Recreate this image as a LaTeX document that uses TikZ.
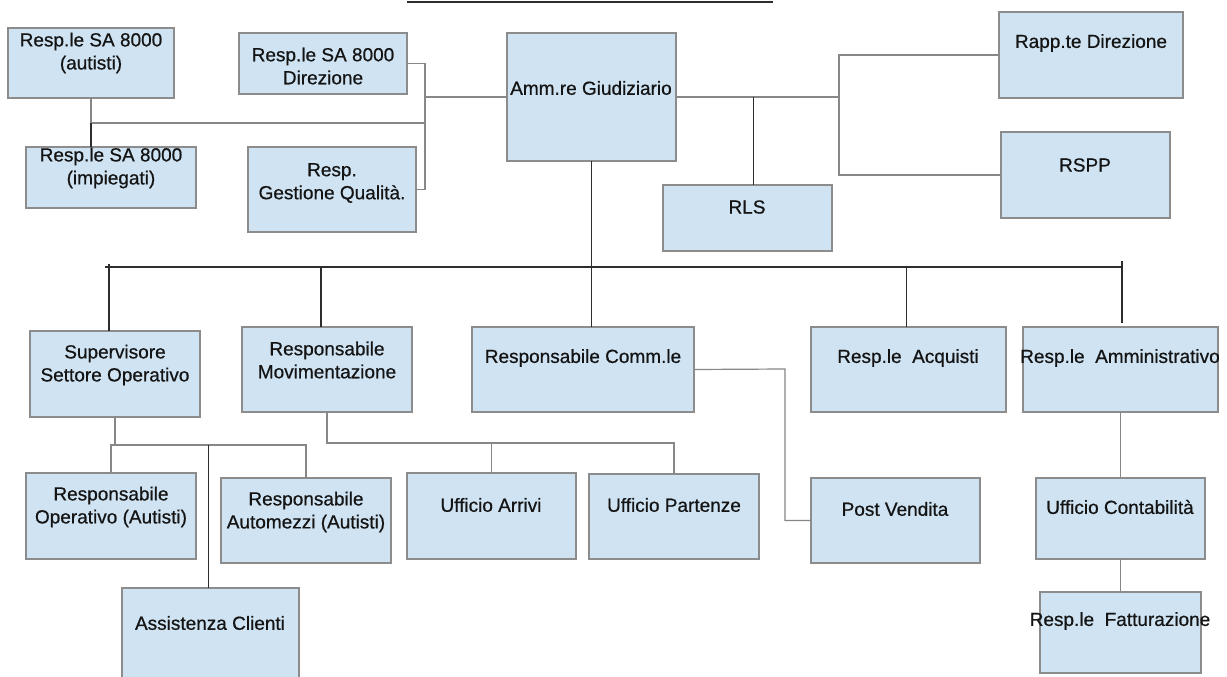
\documentclass[tikz,border=0pt]{standalone}
\usepackage{fontspec}
\setmainfont{Liberation Sans}
\newfontfamily\lblfont{Liberation Sans}[BoldFont={Liberation Sans},BoldFeatures={FakeBold=0.6}]
\definecolor{boxfill}{RGB}{207,227,242}
\definecolor{boxline}{RGB}{140,140,140}
\definecolor{lineg}{RGB}{135,135,135}
\definecolor{lined}{RGB}{45,45,45}
\newcommand{\orgbox}[5]{\node[box, minimum width={(#4-#2)*1pt}, minimum height={(#5-#3)*1pt}] (#1) at (#2,#3) {};}
\begin{document}
\begin{tikzpicture}[x=1pt,y=-1pt,
  box/.style={draw=boxline, fill=boxfill, line width=1.2pt, anchor=north west, inner sep=0pt, outer sep=0pt},
  lbl/.style={font=\lblfont\bfseries\fontsize{19}{23}\selectfont, align=center, inner sep=0pt, text=black!92},
  conn/.style={draw=lineg, line width=1.2pt},
  dconn/.style={draw=lined, line width=1.3pt}]
\useasboundingbox (0,0) rectangle (1227,677);
\fill[white] (0,0) rectangle (1227,677);
\clip (0,0) rectangle (1227,677);
% title underline
\coordinate (ulL) at (407,2);
\coordinate (ulR) at (773,2);
\draw[draw=lined, line width=2pt] (ulL) -- (ulR);
% boxes
\orgbox{sa1}{8}{28}{174}{98}
\orgbox{sadir}{239}{33}{407}{94}
\orgbox{sa2}{26}{147}{196}{208}
\orgbox{gq}{248}{147}{416}{232}
\orgbox{amm}{507}{33}{676}{161}
\orgbox{rapp}{999}{12}{1183}{98}
\orgbox{rspp}{1001}{132}{1170}{218}
\orgbox{rls}{663}{185}{832}{251}
\orgbox{sup}{30}{331}{200}{417}
\orgbox{mov}{242}{327}{412}{412}
\orgbox{comm}{472}{327}{694}{412}
\orgbox{acq}{811}{327}{1006}{412}
\orgbox{amm2}{1023}{327}{1218}{412}
\orgbox{op}{26}{473}{196}{559}
\orgbox{am}{221}{478}{391}{563}
\orgbox{arr}{407}{473}{576}{559}
\orgbox{part}{589}{474}{759}{559}
\orgbox{pv}{811}{478}{980}{563}
\orgbox{cont}{1036}{478}{1205}{559}
\orgbox{fatt}{1040}{592}{1201}{673}
\orgbox{ass}{122}{588}{299}{700}
% labels
\node[lbl] (tsa1) at (91,53) {Resp.le SA 8000\\(autisti)};
\node[lbl] (tsadir) at (323,66) {Resp.le SA 8000\\Direzione};
\node[lbl] (tsa2) at (111,168) {Resp.le SA 8000\\(impiegati)};
\node[lbl] (tgq) at (332,183) {Resp.\\Gestione Qualità.};
\node[lbl] (tamm) at (591,88) {Amm.re Giudiziario};
\node[lbl] (trapp) at (1091,43) {Rapp.te Direzione};
\node[lbl] (trspp) at (1085,165) {RSPP};
\node[lbl] (trls) at (747,207) {RLS};
\node[lbl] (tsup) at (115,365) {Supervisore\\Settore Operativo};
\node[lbl] (tmov) at (327,360) {Responsabile\\Movimentazione};
\node[lbl] (tcomm) at (583,358) {Responsabile Comm.le};
\node[lbl] (tacq) at (908,358) {Resp.le\ \ Acquisti};
\node[lbl] (tamm2) at (1120,358) {Resp.le\ \ Amministrativo};
\node[lbl] (top) at (111,507) {Responsabile\\Operativo (Autisti)};
\node[lbl] (tam) at (306,512) {Responsabile\\Automezzi (Autisti)};
\node[lbl] (tarr) at (491,505) {Ufficio Arrivi};
\node[lbl] (tpart) at (674,505) {Ufficio Partenze};
\node[lbl] (tpv) at (895,509) {Post Vendita};
\node[lbl] (tcont) at (1120,507) {Ufficio Contabilità};
\node[lbl] (tfatt) at (1120,621) {Resp.le\ \ Fatturazione};
\node[lbl] (tass) at (210,623) {Assistenza Clienti};
% junction coordinates
\coordinate (jl) at (425,97);
\coordinate (jm) at (425,123);
\coordinate (jr) at (839,97);
\coordinate (busL) at (105,267);
\coordinate (busR) at (1122,267);
\coordinate (sj) at (115,445);
\coordinate (mj) at (327,443);
\coordinate (cj) at (785,369);
% top left group
\draw[conn] (sadir.east) -| (jl) |- (gq.east);
\draw[conn] (amm.west) -- (jl);
\draw[conn] (jm) -- (jm -| sa1.south);
\draw[conn] (sa1.south) -- (sa1.south |- jm);
\draw[dconn] (sa1.south |- jm) -- (sa1.south |- sa2.north);
% top right group
\draw[conn] (amm.east) -- (jr);
\draw[conn] (rapp.west) -| (jr) |- (rspp.west);
\draw[dconn] ([xshift=6pt]rls.north) -- ([xshift=6pt]rls.north |- amm.east);
% main bus
\draw[dconn] (amm.south) -- (amm.south |- comm.north);
\draw[dconn] (busL) -- (busR);
\draw[dconn] ([xshift=-6pt]sup.north) -- ([xshift=-6pt,yshift=3pt]sup.north |- busL);
\draw[dconn] ([xshift=-6pt]mov.north) -- ([xshift=-6pt]mov.north |- busL);
\draw[dconn] ([xshift=-2pt]acq.north) -- ([xshift=-2pt]acq.north |- busL);
\draw[dconn] ([xshift=1.5pt,yshift=4pt]amm2.north) -- ([xshift=1.5pt,yshift=6pt]amm2.north |- busR);
% supervisore group
\draw[conn] (sup.south) -- (sj);
\draw[conn] (op.north) |- (am.north |- sj) -- (am.north);
\draw[dconn] ([xshift=-2pt]ass.north) -- ([xshift=-2pt]ass.north |- sj);
% movimentazione group
\draw[conn] (mov.south) -- (mj) -- (mj -| part.north) -- (part.north);
\draw[conn] (arr.north) -- (arr.north |- mj);
% commerciale
\draw[conn] (comm.east) -- (cj) |- (pv.west);
% amministrativo
\draw[conn] (amm2.south) -- (cont.north);
\draw[conn] (cont.south) -- (fatt.north);
\end{tikzpicture}
\end{document}
